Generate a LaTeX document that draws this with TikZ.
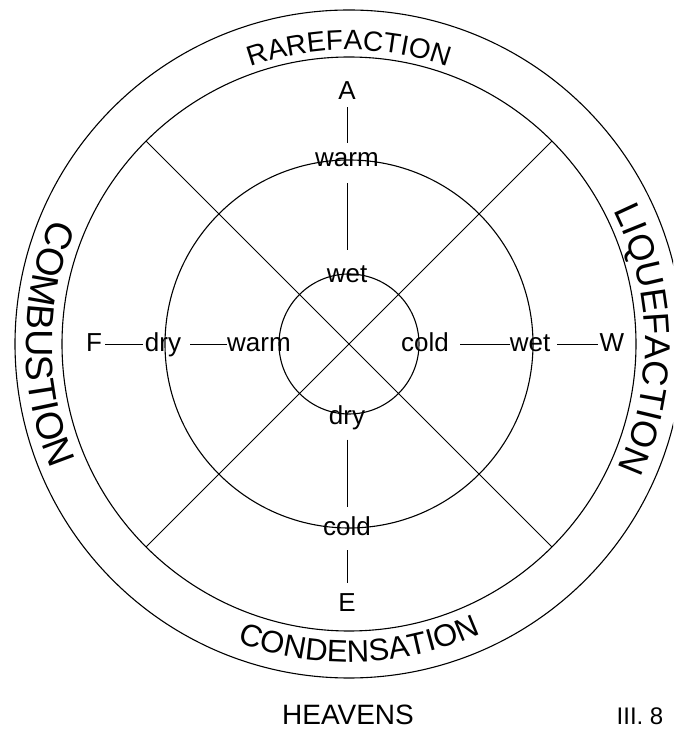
\documentclass[tikz,border=0pt]{standalone}
\usepackage{fontspec}
\setmainfont{Liberation Sans}
\usetikzlibrary{decorations.text}
\begin{document}
\begin{tikzpicture}[x=1pt,y=1pt,
  lbl/.style={font=\fontsize{26}{26}\selectfont, inner sep=0pt, anchor=base},
  ring/.style={line width=1.1pt},
  conn/.style={line width=0.9pt},
  ringtext/.style={decorate, decoration={text along path, text align=center, text={#1}}}]
\useasboundingbox (0,0) rectangle (673,729);
\clip (0,0) rectangle (673,729);
\coordinate (O) at (349,385);
% circles
\draw[ring] (O) circle[radius=334];
\draw[ring] (O) circle[radius=287];
\draw[ring] (O) circle[radius=184];
\draw[ring] (O) circle[radius=70];
% diagonals
\path (O) ++(135:287) coordinate (d1);
\path (O) ++(315:287) coordinate (d2);
\path (O) ++(45:287) coordinate (d3);
\path (O) ++(225:287) coordinate (d4);
\draw[conn] (d1) -- (d2);
\draw[conn] (d3) -- (d4);
% ring texts
\path[ringtext={|\fontsize{28}{28}\selectfont|RAREFACTION}]
  (O) ++(150:294) arc[start angle=150, end angle=30, radius=294];
\path[ringtext={|\fontsize{31}{31}\selectfont|CONDENSATION}]
  (O) ++(222:318) arc[start angle=222, end angle=322, radius=318];
\path[ringtext={|\fontsize{38}{38}\selectfont|COMBUSTION}]
  (O) ++(120:323) arc[start angle=120, end angle=240, radius=323];
\path[ringtext={|\fontsize{36}{36}\selectfont|LIQUEFACTION}]
  (O) ++(61:296) arc[start angle=61, end angle=-59, radius=296];
% labels
\node[lbl] (A) at (347,629) {A};
\node[lbl] (warmT) at (347,562) {warm};
\node[lbl] (wetT) at (347,446) {wet};
\node[lbl] (dryB) at (347,304) {dry};
\node[lbl] (coldB) at (347,193) {cold};
\node[lbl] (E) at (347,117) {E};
\node[lbl] (F) at (94,377) {F};
\node[lbl] (dryL) at (163,377) {dry};
\node[lbl] (warmL) at (259,377) {warm};
\node[lbl] (coldR) at (425,377) {cold};
\node[lbl] (wetR) at (530,377) {wet};
\node[lbl] (W) at (612,377) {W};
% connectors
\draw[conn] ([yshift=-7pt]A.south) -- ([yshift=10pt]warmT.north);
\draw[conn] ([yshift=-16pt]warmT.south) -- ([yshift=16pt]wetT.north);
\draw[conn] ([yshift=-9pt]dryB.south) -- ([yshift=10pt]coldB.north);
\draw[conn] ([yshift=-14pt]coldB.south) -- ([yshift=11pt]E.north);
\draw[conn] ([xshift=3pt]F.east |- O) -- ([xshift=-2pt]dryL.west |- O);
\draw[conn] ([xshift=9pt]dryL.east |- O) -- (warmL.west |- O);
\draw[conn] ([xshift=11pt]coldR.east |- O) -- (wetR.west |- O);
\draw[conn] ([xshift=7pt]wetR.east |- O) -- ([xshift=-2pt]W.west |- O);
% captions
\node[font=\fontsize{28}{28}\selectfont, inner sep=0pt, anchor=base] (heav) at (348,5) {HEAVENS};
\node[font=\fontsize{24}{24}\selectfont, inner sep=0pt, anchor=base] (ill) at (640,5) {III. 8};
\end{tikzpicture}
\end{document}
